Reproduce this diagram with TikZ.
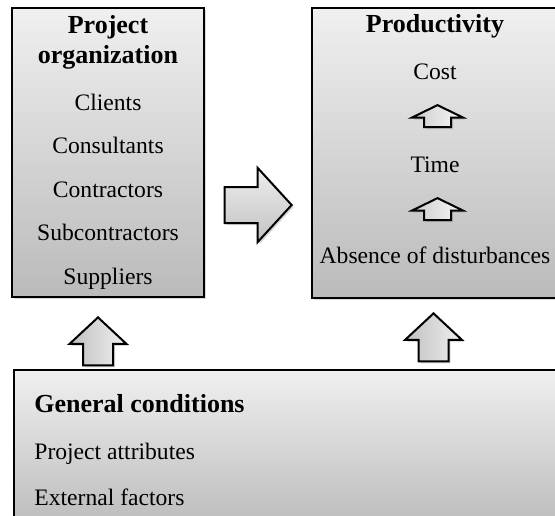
\documentclass[tikz,border=0pt]{standalone}
\usepackage{fontspec}
\setmainfont{Liberation Serif}
\usetikzlibrary{positioning,shapes.arrows,shadows}
\tikzstyle{box}=[rectangle,draw=black,line width=1pt,top color=black!6,
bottom color=black!27,inner sep=0pt,
drop shadow={shadow xshift=1pt,shadow yshift=-1pt,opacity=0.3}]
\tikzstyle{headtext}=[font=\fontsize{13}{15}\selectfont\bfseries,align=center,inner sep=0pt]
\tikzstyle{item}=[font=\fontsize{11.8}{14}\selectfont,inner sep=0pt,
text height=8pt,text depth=2.5pt]
\tikzstyle{blockarrow}=[single arrow,draw=black,line width=1pt,inner xsep=0pt,
anchor=tip,drop shadow={shadow xshift=1pt,shadow yshift=-1pt,opacity=0.3}]
\tikzstyle{bigarrow}=[blockarrow,top color=black!7,bottom color=black!24,
minimum height=33.5pt,inner ysep=8.5pt,single arrow head extend=9.5pt,
single arrow tip angle=95]
\tikzstyle{uparrow}=[blockarrow,rotate=90,left color=black!25,right color=black!6,
minimum height=24pt,inner ysep=7pt,single arrow head extend=6.75pt,
single arrow tip angle=94]
\tikzstyle{smallarrow}=[blockarrow,rotate=90,left color=black!20,right color=black!3,
minimum height=11pt,inner ysep=6.25pt,single arrow head extend=6pt,
single arrow tip angle=128]

\begin{document}
\begin{tikzpicture}[x=0.5pt,y=-0.5pt,node distance=21.75pt]
\useasboundingbox (0,0) rectangle (555,515);

% boxes
\node[box,minimum width=126.5pt,minimum height=145pt] (prod) at (438.5,153) {};
\node[box,minimum width=96pt,minimum height=144.5pt] (org) at (108,152.5) {};
\node[box,minimum width=300pt,minimum height=80pt,anchor=north west] (gen) at (13,369) {};

% project organization
\node[headtext] (orgh) at (108,42) {Project\\organization};
\node[item] (c1) at (108,104.5) {Clients};
\node[item,below of=c1] (c2) {Consultants};
\node[item,below of=c2] (c3) {Contractors};
\node[item,below of=c3] (c4) {Subcontractors};
\node[item,below of=c4] (c5) {Suppliers};

% productivity
\node[headtext,anchor=base] (prodh) at (435,32) {Productivity};
\node[item] (cost) at (435,73.5) {Cost};
\node[smallarrow] (a1) at (437.5,104) {};
\node[item] (time) at (435,166.5) {Time};
\node[smallarrow] (a2) at (437.5,197) {};
\node[item] (abs) at (435,257.5) {Absence of disturbances};

% general conditions
\node[headtext,anchor=base west] (genh) at (34,412) {General conditions};
\node[item,anchor=base west] (g1) at (34,459) {Project attributes};
\node[item,anchor=base west] (g2) at (34,505) {External factors};

% block arrows
\node[bigarrow] (b1) at (293,205) {};
\node[uparrow] (u1) at (98,316) {};
\node[uparrow] (u2) at (433.5,312) {};

\end{tikzpicture}
\end{document}
